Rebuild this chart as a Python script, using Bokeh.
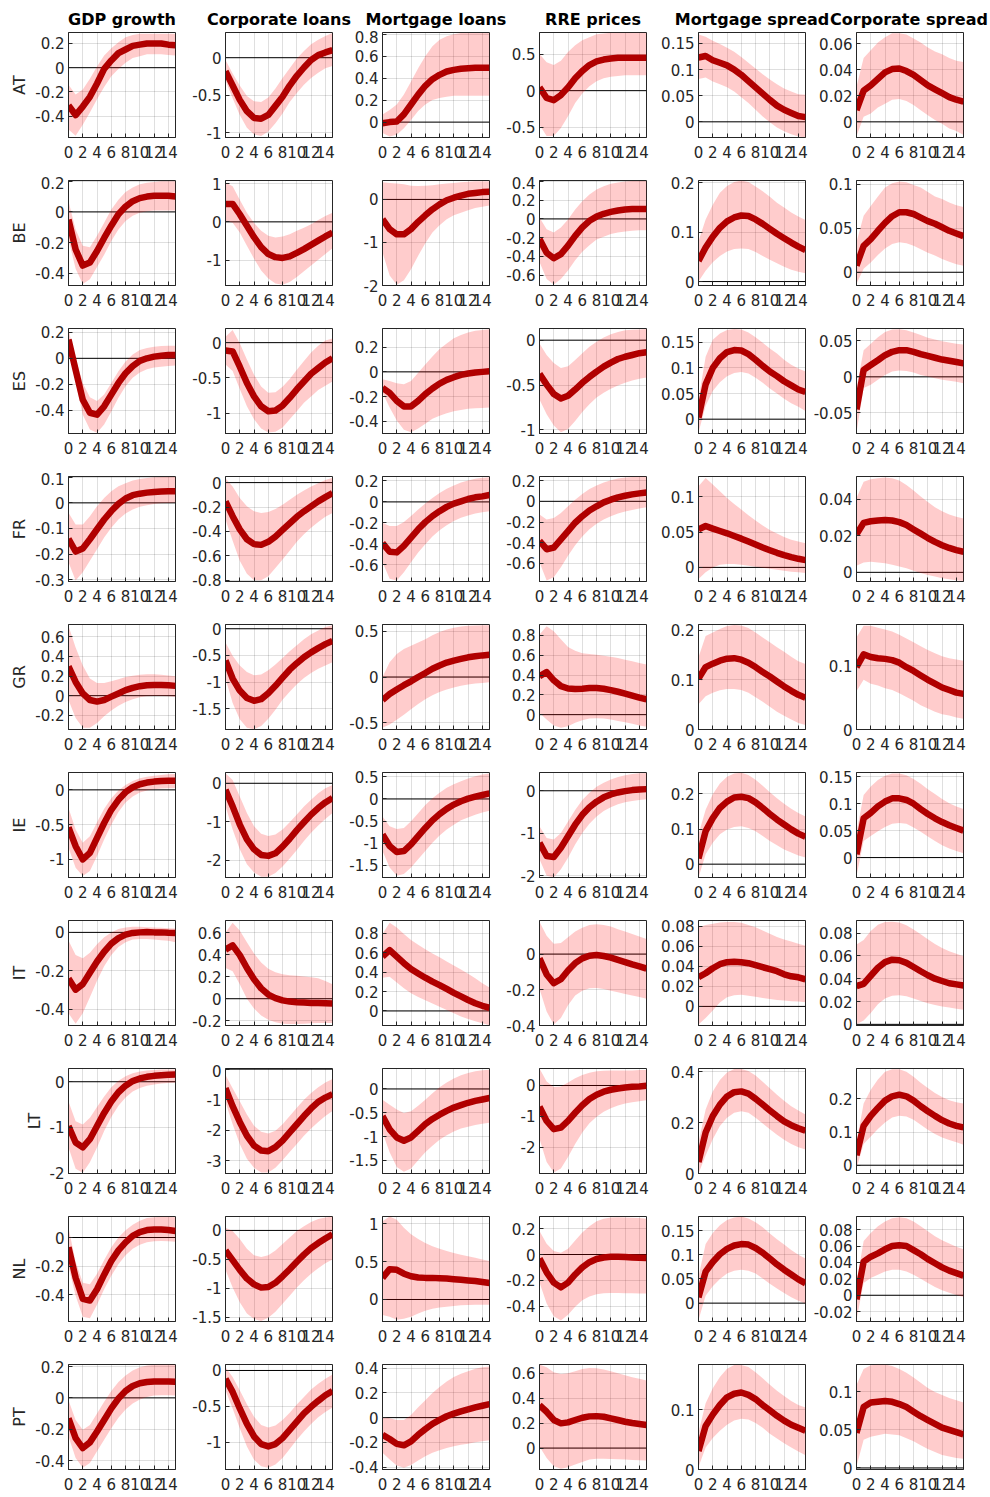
from bokeh.plotting import figure
from bokeh.layouts import gridplot, column
from bokeh.models import FixedTicker, CustomJSTickFormatter, Range1d, Span
from bokeh.core.properties import value
from bokeh.embed import file_html
from bokeh.resources import INLINE

COUNTRIES = ["AT", "BE", "ES", "FR", "GR", "IE", "IT", "LT", "NL", "PT"]
TITLES = ["GDP growth", "Corporate loans", "Mortgage loans", "RRE prices",
          "Mortgage spread", "Corporate spread"]
HORIZON = list(range(16))
X_TICKS = [0, 2, 4, 6, 8, 10, 12, 14]

# ---------------- GDP growth ----------------
GDP_MED = [
    [-0.31, -0.39, -0.32, -0.24, -0.13, -0.01, 0.06, 0.12, 0.15, 0.18, 0.19, 0.2, 0.2, 0.2, 0.19, 0.185],
    [-0.05, -0.245, -0.35, -0.33, -0.255, -0.17, -0.09, -0.015, 0.035, 0.07, 0.09, 0.1, 0.105, 0.105, 0.105, 0.1],
    [0.145, -0.09, -0.32, -0.42, -0.435, -0.37, -0.28, -0.19, -0.115, -0.06, -0.02, 0.0, 0.013, 0.02, 0.025, 0.025],
    [-0.14, -0.19, -0.178, -0.142, -0.103, -0.065, -0.032, -0.004, 0.017, 0.03, 0.036, 0.04, 0.0425, 0.044, 0.045, 0.045],
    [0.298, 0.14, 0.023, -0.044, -0.06, -0.044, -0.01, 0.023, 0.057, 0.08, 0.097, 0.107, 0.11, 0.11, 0.107, 0.1],
    [-0.538, -0.81, -1.0, -0.905, -0.69, -0.476, -0.286, -0.143, -0.033, 0.038, 0.081, 0.105, 0.119, 0.129, 0.133, 0.133],
    [-0.241, -0.299, -0.27, -0.211, -0.152, -0.101, -0.059, -0.03, -0.012, -0.003, 0.0, 0.002, 0.0, 0.0, -0.002, -0.003],
    [-0.971, -1.331, -1.439, -1.259, -0.971, -0.683, -0.432, -0.23, -0.086, 0.014, 0.072, 0.108, 0.129, 0.144, 0.151, 0.158],
    [-0.068, -0.282, -0.429, -0.441, -0.362, -0.26, -0.165, -0.09, -0.034, 0.011, 0.038, 0.052, 0.056, 0.056, 0.052, 0.045],
    [-0.131, -0.257, -0.32, -0.284, -0.215, -0.141, -0.067, -0.004, 0.044, 0.076, 0.093, 0.101, 0.105, 0.105, 0.105, 0.103],
]
GDP_LO = [
    [-0.51, -0.56, -0.47, -0.37, -0.26, -0.16, -0.07, -0.01, 0.04, 0.08, 0.095, 0.11, 0.11, 0.11, 0.105, 0.1],
    [-0.18, -0.37, -0.47, -0.44, -0.36, -0.28, -0.19, -0.115, -0.06, -0.025, -0.006, 0.004, 0.01, 0.01, 0.01, 0.01],
    [0.09, -0.18, -0.435, -0.55, -0.575, -0.51, -0.41, -0.305, -0.215, -0.15, -0.11, -0.085, -0.07, -0.065, -0.06, -0.055],
    [-0.232, -0.303, -0.271, -0.226, -0.181, -0.135, -0.097, -0.065, -0.041, -0.026, -0.015, -0.009, -0.004, -0.001, 0.0, 0.001],
    [-0.044, -0.228, -0.328, -0.328, -0.278, -0.21, -0.15, -0.104, -0.064, -0.037, -0.017, -0.007, -0.003, -0.003, -0.007, -0.013],
    [-0.833, -1.119, -1.238, -1.167, -0.952, -0.714, -0.5, -0.319, -0.181, -0.095, -0.038, -0.01, 0.01, 0.019, 0.024, 0.024],
    [-0.422, -0.477, -0.422, -0.338, -0.253, -0.177, -0.118, -0.076, -0.051, -0.037, -0.034, -0.034, -0.037, -0.041, -0.044, -0.051],
    [-1.439, -1.906, -1.993, -1.763, -1.439, -1.079, -0.77, -0.525, -0.345, -0.216, -0.137, -0.086, -0.058, -0.036, -0.029, -0.022],
    [-0.203, -0.407, -0.554, -0.565, -0.47, -0.362, -0.267, -0.188, -0.124, -0.079, -0.05, -0.034, -0.027, -0.025, -0.027, -0.029],
    [-0.246, -0.383, -0.446, -0.415, -0.341, -0.267, -0.194, -0.126, -0.074, -0.036, -0.011, 0.006, 0.015, 0.017, 0.017, 0.015],
]
GDP_HI = [
    [-0.14, -0.22, -0.18, -0.09, 0.01, 0.1, 0.16, 0.21, 0.25, 0.27, 0.28, 0.28, 0.28, 0.28, 0.28, 0.28],
    [0.07, -0.115, -0.22, -0.23, -0.155, -0.07, 0.015, 0.08, 0.13, 0.16, 0.18, 0.19, 0.195, 0.2, 0.2, 0.2],
    [0.22, 0.0, -0.19, -0.3, -0.33, -0.28, -0.19, -0.1, -0.025, 0.03, 0.065, 0.08, 0.09, 0.095, 0.097, 0.097],
    [-0.039, -0.084, -0.084, -0.052, -0.013, 0.019, 0.045, 0.065, 0.077, 0.087, 0.093, 0.097, 0.1, 0.101, 0.102, 0.102],
    [0.71, 0.492, 0.308, 0.174, 0.13, 0.13, 0.147, 0.167, 0.19, 0.204, 0.214, 0.218, 0.218, 0.214, 0.207, 0.197],
    [-0.262, -0.571, -0.762, -0.667, -0.467, -0.271, -0.119, -0.01, 0.071, 0.129, 0.167, 0.19, 0.205, 0.214, 0.224, 0.229],
    [-0.042, -0.118, -0.135, -0.106, -0.062, -0.025, 0.0, 0.017, 0.025, 0.029, 0.029, 0.027, 0.025, 0.024, 0.022, 0.02],
    [-0.432, -0.863, -0.935, -0.791, -0.554, -0.324, -0.122, 0.022, 0.122, 0.187, 0.223, 0.245, 0.259, 0.266, 0.266, 0.266],
    [0.068, -0.169, -0.316, -0.328, -0.253, -0.158, -0.068, 0.0, 0.05, 0.09, 0.118, 0.136, 0.142, 0.145, 0.145, 0.142],
    [-0.015, -0.141, -0.204, -0.173, -0.099, -0.025, 0.044, 0.101, 0.143, 0.175, 0.196, 0.206, 0.211, 0.213, 0.213, 0.213],
]
GDP_YLIM = [[-0.575, 0.29], [-0.48, 0.205], [-0.58, 0.23], [-0.307, 0.103], [-0.345, 0.726],
            [-1.26, 0.25], [-0.486, 0.062], [-2.01, 0.29], [-0.588, 0.147], [-0.457, 0.213]]
GDP_YTICKS = [[-0.4, -0.2, 0, 0.2], [-0.4, -0.2, 0, 0.2], [-0.4, -0.2, 0, 0.2], [-0.3, -0.2, -0.1, 0, 0.1],
              [-0.2, 0, 0.2, 0.4, 0.6], [-1, -0.5, 0], [-0.4, -0.2, 0], [-2, -1, 0], [-0.4, -0.2, 0],
              [-0.4, -0.2, 0, 0.2]]

# ---------------- Corporate loans ----------------
CORP_MED = [
    [-0.18, -0.37, -0.56, -0.71, -0.8, -0.81, -0.76, -0.64, -0.52, -0.37, -0.24, -0.13, -0.03, 0.035, 0.07, 0.1],
    [0.47, 0.47, 0.2, -0.1, -0.4, -0.66, -0.84, -0.92, -0.94, -0.9, -0.81, -0.71, -0.6, -0.49, -0.38, -0.28],
    [-0.11, -0.125, -0.34, -0.57, -0.76, -0.9, -0.97, -0.96, -0.89, -0.78, -0.66, -0.55, -0.44, -0.36, -0.28, -0.22],
    [-0.154, -0.275, -0.383, -0.464, -0.504, -0.51, -0.485, -0.442, -0.388, -0.334, -0.28, -0.235, -0.194, -0.154, -0.119, -0.086],
    [-0.596, -0.934, -1.16, -1.3, -1.35, -1.32, -1.21, -1.07, -0.916, -0.768, -0.645, -0.535, -0.443, -0.363, -0.289, -0.227],
    [-0.172, -0.6, -1.073, -1.46, -1.717, -1.863, -1.888, -1.82, -1.648, -1.442, -1.219, -1.013, -0.815, -0.644, -0.498, -0.386],
    [0.446, 0.484, 0.396, 0.279, 0.176, 0.094, 0.038, 0.006, -0.015, -0.026, -0.032, -0.035, -0.038, -0.038, -0.041, -0.044],
    [-0.622, -1.211, -1.726, -2.176, -2.497, -2.658, -2.68, -2.551, -2.337, -2.069, -1.801, -1.533, -1.286, -1.07, -0.93, -0.82],
    [-0.345, -0.513, -0.68, -0.83, -0.93, -0.986, -0.975, -0.903, -0.791, -0.669, -0.54, -0.418, -0.306, -0.217, -0.139, -0.067],
    [-0.115, -0.298, -0.528, -0.743, -0.917, -1.023, -1.055, -1.023, -0.94, -0.826, -0.711, -0.596, -0.505, -0.422, -0.344, -0.284],
]
CORP_LO = [
    [-0.3, -0.54, -0.76, -0.93, -1.02, -1.04, -0.98, -0.87, -0.74, -0.59, -0.47, -0.36, -0.27, -0.2, -0.14, -0.11],
    [0.03, -0.02, -0.28, -0.62, -0.96, -1.27, -1.48, -1.61, -1.64, -1.57, -1.44, -1.29, -1.14, -0.99, -0.84, -0.69],
    [-0.31, -0.4, -0.655, -0.9, -1.085, -1.215, -1.27, -1.26, -1.2, -1.085, -0.97, -0.85, -0.76, -0.67, -0.61, -0.55],
    [-0.302, -0.477, -0.64, -0.747, -0.8, -0.8, -0.766, -0.7, -0.63, -0.558, -0.485, -0.423, -0.369, -0.323, -0.28, -0.248],
    [-0.934, -1.395, -1.7, -1.856, -1.887, -1.825, -1.69, -1.52, -1.334, -1.18, -1.04, -0.922, -0.83, -0.75, -0.688, -0.627],
    [-0.6, -1.202, -1.717, -2.103, -2.318, -2.43, -2.43, -2.335, -2.163, -1.957, -1.734, -1.502, -1.288, -1.099, -0.927, -0.773],
    [0.279, 0.249, 0.132, 0.0, -0.088, -0.152, -0.191, -0.214, -0.226, -0.229, -0.229, -0.226, -0.223, -0.22, -0.22, -0.22],
    [-1.083, -1.801, -2.444, -2.926, -3.226, -3.376, -3.376, -3.226, -2.979, -2.711, -2.444, -2.176, -1.94, -1.726, -1.533, -1.372],
    [-0.68, -0.986, -1.237, -1.432, -1.527, -1.56, -1.504, -1.404, -1.265, -1.125, -0.986, -0.858, -0.746, -0.652, -0.568, -0.502],
    [-0.275, -0.528, -0.803, -1.055, -1.239, -1.33, -1.353, -1.307, -1.216, -1.092, -0.963, -0.849, -0.743, -0.651, -0.578, -0.514],
]
CORP_HI = [
    [-0.03, -0.21, -0.37, -0.51, -0.58, -0.59, -0.53, -0.41, -0.27, -0.14, -0.01, 0.09, 0.18, 0.24, 0.29, 0.33],
    [1.03, 0.93, 0.58, 0.24, -0.03, -0.23, -0.36, -0.41, -0.38, -0.32, -0.23, -0.15, -0.06, 0.05, 0.155, 0.24],
    [0.085, 0.18, -0.01, -0.24, -0.455, -0.62, -0.71, -0.7, -0.625, -0.515, -0.385, -0.26, -0.14, -0.045, 0.03, 0.06],
    [0.035, -0.032, -0.127, -0.194, -0.235, -0.248, -0.24, -0.216, -0.181, -0.14, -0.1, -0.065, -0.032, -0.005, 0.022, 0.04],
    [-0.258, -0.504, -0.688, -0.811, -0.873, -0.86, -0.78, -0.67, -0.547, -0.424, -0.307, -0.197, -0.105, -0.031, 0.031, 0.068],
    [0.258, 0.086, -0.343, -0.773, -1.116, -1.313, -1.373, -1.33, -1.202, -1.013, -0.815, -0.601, -0.429, -0.258, -0.129, -0.043],
    [0.601, 0.689, 0.62, 0.513, 0.41, 0.328, 0.273, 0.24, 0.223, 0.214, 0.208, 0.202, 0.196, 0.185, 0.161, 0.132],
    [-0.193, -0.622, -1.051, -1.479, -1.854, -2.047, -2.101, -2.015, -1.801, -1.533, -1.265, -0.997, -0.782, -0.59, -0.44, -0.322],
    [0.045, -0.011, -0.15, -0.318, -0.429, -0.457, -0.429, -0.345, -0.234, -0.123, -0.011, 0.072, 0.145, 0.195, 0.223, 0.24],
    [0.046, -0.092, -0.275, -0.468, -0.642, -0.757, -0.794, -0.766, -0.688, -0.587, -0.472, -0.367, -0.266, -0.183, -0.115, -0.055],
]
CORP_YLIM = [[-1.06, 0.335], [-1.66, 1.08], [-1.285, 0.2], [-0.81, 0.05], [-1.89, 0.08],
             [-2.45, 0.28], [-0.243, 0.71], [-3.41, 0.02], [-1.57, 0.24], [-1.376, 0.083]]
CORP_YTICKS = [[-1, -0.5, 0], [-1, 0, 1], [-1, -0.5, 0], [-0.8, -0.6, -0.4, -0.2, 0], [-1.5, -1, -0.5, 0],
               [-2, -1, 0], [-0.2, 0, 0.2, 0.4, 0.6], [-3, -2, -1, 0], [-1.5, -1, -0.5, 0], [-1, -0.5, 0]]

# ---------------- Mortgage loans ----------------
MORT_MED = [
    [-0.01, 0.0, 0.005, 0.07, 0.16, 0.25, 0.33, 0.39, 0.43, 0.46, 0.475, 0.485, 0.49, 0.495, 0.495, 0.495],
    [-0.46, -0.69, -0.81, -0.81, -0.69, -0.52, -0.37, -0.23, -0.115, -0.02, 0.04, 0.09, 0.13, 0.15, 0.17, 0.18],
    [-0.13, -0.17, -0.235, -0.28, -0.28, -0.235, -0.18, -0.135, -0.095, -0.065, -0.043, -0.024, -0.013, -0.005, 0.0, 0.005],
    [-0.392, -0.474, -0.48, -0.417, -0.339, -0.26, -0.192, -0.135, -0.088, -0.047, -0.016, 0.006, 0.028, 0.044, 0.053, 0.066],
    [-0.252, -0.187, -0.137, -0.09, -0.047, 0.0, 0.043, 0.09, 0.126, 0.158, 0.18, 0.198, 0.216, 0.227, 0.237, 0.245],
    [-0.806, -1.067, -1.2, -1.18, -1.03, -0.843, -0.657, -0.485, -0.343, -0.224, -0.127, -0.052, 0.007, 0.052, 0.09, 0.127],
    [0.56, 0.627, 0.56, 0.493, 0.433, 0.387, 0.343, 0.303, 0.267, 0.227, 0.187, 0.15, 0.113, 0.08, 0.053, 0.033],
    [-0.571, -0.846, -1.018, -1.087, -1.018, -0.88, -0.74, -0.63, -0.54, -0.46, -0.39, -0.34, -0.29, -0.25, -0.22, -0.19],
    [0.285, 0.4, 0.391, 0.34, 0.306, 0.289, 0.285, 0.285, 0.281, 0.277, 0.268, 0.26, 0.251, 0.243, 0.23, 0.217],
    [-0.139, -0.173, -0.213, -0.224, -0.192, -0.139, -0.093, -0.051, -0.019, 0.011, 0.032, 0.051, 0.067, 0.083, 0.096, 0.109],
]
MORT_LO = [
    [-0.1, -0.13, -0.115, -0.055, 0.02, 0.1, 0.16, 0.2, 0.22, 0.23, 0.24, 0.24, 0.24, 0.24, 0.24, 0.24],
    [-1.23, -1.77, -1.98, -1.88, -1.62, -1.31, -1.02, -0.77, -0.6, -0.46, -0.37, -0.31, -0.25, -0.2, -0.17, -0.14],
    [-0.17, -0.29, -0.395, -0.47, -0.49, -0.46, -0.42, -0.38, -0.355, -0.335, -0.32, -0.31, -0.3, -0.295, -0.293, -0.29],
    [-0.575, -0.732, -0.748, -0.669, -0.575, -0.48, -0.402, -0.33, -0.27, -0.223, -0.182, -0.151, -0.129, -0.11, -0.097, -0.088],
    [-0.558, -0.522, -0.468, -0.414, -0.353, -0.295, -0.245, -0.201, -0.165, -0.137, -0.115, -0.097, -0.083, -0.072, -0.065, -0.058],
    [-1.179, -1.552, -1.739, -1.701, -1.552, -1.366, -1.179, -0.993, -0.828, -0.694, -0.582, -0.485, -0.418, -0.358, -0.306, -0.269],
    [0.343, 0.353, 0.293, 0.233, 0.183, 0.143, 0.11, 0.077, 0.043, 0.01, -0.023, -0.057, -0.083, -0.107, -0.127, -0.147],
    [-0.915, -1.328, -1.637, -1.74, -1.671, -1.499, -1.328, -1.19, -1.066, -0.97, -0.894, -0.832, -0.791, -0.757, -0.729, -0.708],
    [-0.204, -0.226, -0.268, -0.255, -0.226, -0.183, -0.149, -0.123, -0.106, -0.094, -0.085, -0.077, -0.072, -0.068, -0.068, -0.068],
    [-0.285, -0.339, -0.387, -0.405, -0.384, -0.347, -0.312, -0.285, -0.264, -0.245, -0.232, -0.219, -0.211, -0.2, -0.192, -0.184],
]
MORT_HI = [
    [0.07, 0.11, 0.16, 0.25, 0.37, 0.49, 0.6, 0.69, 0.75, 0.78, 0.8, 0.81, 0.81, 0.81, 0.81, 0.81],
    [0.4, 0.38, 0.37, 0.35, 0.32, 0.31, 0.32, 0.33, 0.35, 0.37, 0.38, 0.4, 0.41, 0.42, 0.42, 0.42],
    [-0.06, -0.075, -0.093, -0.1, -0.075, -0.008, 0.06, 0.125, 0.185, 0.23, 0.272, 0.3, 0.32, 0.333, 0.34, 0.345],
    [-0.198, -0.229, -0.229, -0.192, -0.135, -0.072, -0.016, 0.038, 0.085, 0.126, 0.157, 0.185, 0.204, 0.22, 0.23, 0.236],
    [0.0, 0.162, 0.252, 0.306, 0.342, 0.378, 0.414, 0.457, 0.493, 0.522, 0.54, 0.554, 0.561, 0.565, 0.568, 0.568],
    [-0.396, -0.62, -0.679, -0.657, -0.507, -0.321, -0.134, 0.015, 0.142, 0.254, 0.336, 0.403, 0.463, 0.515, 0.552, 0.575],
    [0.793, 0.91, 0.86, 0.793, 0.733, 0.683, 0.637, 0.593, 0.553, 0.51, 0.47, 0.427, 0.383, 0.337, 0.287, 0.243],
    [-0.227, -0.33, -0.433, -0.502, -0.468, -0.351, -0.227, -0.089, 0.034, 0.138, 0.22, 0.289, 0.337, 0.371, 0.392, 0.406],
    [1.03, 1.094, 1.051, 0.945, 0.86, 0.796, 0.745, 0.702, 0.668, 0.638, 0.613, 0.591, 0.57, 0.549, 0.528, 0.506],
    [0.008, -0.005, -0.019, -0.019, 0.021, 0.083, 0.141, 0.2, 0.248, 0.293, 0.328, 0.355, 0.376, 0.395, 0.408, 0.413],
]
MORT_YLIM = [[-0.14, 0.815], [-2.0, 0.44], [-0.5, 0.352], [-0.757, 0.242], [-0.576, 0.576],
             [-1.78, 0.6], [-0.15, 0.933], [-1.775, 0.43], [-0.29, 1.094], [-0.42, 0.43]]
MORT_YTICKS = [[0, 0.2, 0.4, 0.6, 0.8], [-2, -1, 0], [-0.4, -0.2, 0, 0.2], [-0.6, -0.4, -0.2, 0, 0.2],
               [-0.5, 0, 0.5], [-1.5, -1, -0.5, 0, 0.5], [0, 0.2, 0.4, 0.6, 0.8], [-1.5, -1, -0.5, 0],
               [0, 0.5, 1], [-0.4, -0.2, 0, 0.2, 0.4]]

# ---------------- RRE prices ----------------
RRE_MED = [
    [0.045, -0.1, -0.13, -0.06, 0.045, 0.17, 0.27, 0.35, 0.4, 0.425, 0.44, 0.45, 0.45, 0.45, 0.45, 0.45],
    [-0.215, -0.36, -0.42, -0.375, -0.285, -0.18, -0.09, -0.02, 0.025, 0.055, 0.075, 0.09, 0.1, 0.105, 0.105, 0.105],
    [-0.375, -0.495, -0.6, -0.65, -0.62, -0.55, -0.475, -0.41, -0.35, -0.295, -0.25, -0.21, -0.185, -0.165, -0.145, -0.135],
    [-0.383, -0.463, -0.447, -0.367, -0.287, -0.207, -0.144, -0.089, -0.048, -0.01, 0.016, 0.038, 0.054, 0.067, 0.077, 0.086],
    [0.387, 0.43, 0.347, 0.288, 0.264, 0.258, 0.261, 0.268, 0.268, 0.261, 0.248, 0.231, 0.212, 0.192, 0.172, 0.155],
    [-1.225, -1.535, -1.558, -1.341, -1.07, -0.798, -0.566, -0.388, -0.256, -0.155, -0.085, -0.039, -0.008, 0.016, 0.031, 0.039],
    [-0.024, -0.114, -0.163, -0.141, -0.092, -0.051, -0.024, -0.009, -0.005, -0.011, -0.02, -0.033, -0.045, -0.058, -0.069, -0.081],
    [-0.691, -1.149, -1.415, -1.362, -1.149, -0.883, -0.638, -0.436, -0.298, -0.202, -0.138, -0.096, -0.064, -0.043, -0.032, -0.011],
    [-0.03, -0.138, -0.218, -0.255, -0.218, -0.155, -0.1, -0.06, -0.035, -0.023, -0.018, -0.018, -0.02, -0.023, -0.025, -0.028],
    [0.343, 0.291, 0.225, 0.198, 0.206, 0.225, 0.243, 0.254, 0.256, 0.251, 0.238, 0.225, 0.211, 0.201, 0.193, 0.185],
]
RRE_LO = [
    [-0.47, -0.62, -0.62, -0.51, -0.35, -0.17, -0.04, 0.06, 0.13, 0.17, 0.19, 0.2, 0.21, 0.21, 0.21, 0.21],
    [-0.46, -0.64, -0.7, -0.64, -0.55, -0.44, -0.35, -0.28, -0.22, -0.19, -0.16, -0.145, -0.135, -0.125, -0.12, -0.12],
    [-0.66, -0.825, -0.95, -1.025, -0.99, -0.9, -0.8, -0.715, -0.64, -0.585, -0.54, -0.505, -0.475, -0.45, -0.43, -0.415],
    [-0.59, -0.765, -0.734, -0.638, -0.526, -0.424, -0.341, -0.271, -0.217, -0.175, -0.144, -0.118, -0.099, -0.083, -0.07, -0.057],
    [0.017, -0.05, -0.109, -0.132, -0.116, -0.083, -0.056, -0.04, -0.036, -0.04, -0.05, -0.063, -0.076, -0.093, -0.109, -0.122],
    [-1.612, -2.0, -2.04, -1.845, -1.574, -1.264, -0.992, -0.775, -0.605, -0.473, -0.388, -0.318, -0.271, -0.24, -0.217, -0.202],
    [-0.195, -0.322, -0.395, -0.358, -0.286, -0.232, -0.205, -0.192, -0.19, -0.195, -0.205, -0.214, -0.223, -0.232, -0.241, -0.25],
    [-1.734, -2.479, -2.819, -2.691, -2.319, -1.894, -1.521, -1.223, -1.011, -0.851, -0.734, -0.649, -0.585, -0.543, -0.511, -0.479],
    [-0.218, -0.38, -0.48, -0.513, -0.468, -0.405, -0.355, -0.325, -0.308, -0.3, -0.298, -0.298, -0.3, -0.3, -0.303, -0.303],
    [0.013, -0.079, -0.145, -0.166, -0.153, -0.132, -0.111, -0.092, -0.085, -0.085, -0.087, -0.09, -0.092, -0.095, -0.098, -0.1],
]
RRE_HI = [
    [0.5, 0.39, 0.35, 0.41, 0.53, 0.62, 0.69, 0.73, 0.77, 0.78, 0.79, 0.79, 0.79, 0.79, 0.79, 0.79],
    [0.015, -0.11, -0.145, -0.09, -0.005, 0.1, 0.19, 0.26, 0.315, 0.35, 0.375, 0.39, 0.4, 0.405, 0.405, 0.405],
    [-0.037, -0.165, -0.255, -0.31, -0.29, -0.22, -0.145, -0.073, -0.018, 0.03, 0.066, 0.092, 0.11, 0.117, 0.12, 0.124],
    [-0.128, -0.175, -0.16, -0.112, -0.048, 0.016, 0.07, 0.118, 0.153, 0.182, 0.204, 0.22, 0.23, 0.236, 0.239, 0.239],
    [0.81, 0.893, 0.843, 0.76, 0.684, 0.645, 0.621, 0.612, 0.605, 0.595, 0.585, 0.572, 0.555, 0.539, 0.522, 0.506],
    [-0.837, -1.109, -1.147, -0.992, -0.721, -0.45, -0.217, -0.047, 0.093, 0.186, 0.264, 0.326, 0.364, 0.395, 0.411, 0.419],
    [0.181, 0.103, 0.058, 0.062, 0.094, 0.127, 0.148, 0.163, 0.167, 0.163, 0.154, 0.139, 0.127, 0.112, 0.098, 0.085],
    [0.553, 0.128, -0.053, -0.032, 0.096, 0.234, 0.34, 0.415, 0.457, 0.479, 0.489, 0.489, 0.489, 0.489, 0.5, 0.5],
    [0.183, 0.083, 0.028, 0.013, 0.045, 0.108, 0.17, 0.22, 0.258, 0.278, 0.288, 0.29, 0.288, 0.285, 0.283, 0.278],
    [0.67, 0.647, 0.608, 0.594, 0.6, 0.616, 0.634, 0.642, 0.639, 0.629, 0.616, 0.6, 0.584, 0.568, 0.555, 0.542],
]
RRE_YLIM = [[-0.64, 0.795], [-0.71, 0.41], [-1.04, 0.13], [-0.775, 0.24], [-0.15, 0.91],
            [-2.04, 0.43], [-0.4, 0.188], [-2.85, 0.55], [-0.52, 0.295], [-0.172, 0.67]]
RRE_YTICKS = [[-0.5, 0, 0.5], [-0.6, -0.4, -0.2, 0, 0.2, 0.4], [-1, -0.5, 0], [-0.6, -0.4, -0.2, 0, 0.2],
              [0, 0.2, 0.4, 0.6, 0.8], [-2, -1, 0], [-0.4, -0.2, 0], [-2, -1, 0], [-0.4, -0.2, 0, 0.2],
              [0, 0.2, 0.4, 0.6]]

# ---------------- Mortgage spread ----------------
MSPR_MED = [
    [0.123, 0.126, 0.118, 0.113, 0.108, 0.1, 0.09, 0.078, 0.066, 0.054, 0.042, 0.031, 0.023, 0.017, 0.011, 0.009],
    [0.042, 0.069, 0.091, 0.109, 0.122, 0.13, 0.134, 0.133, 0.126, 0.117, 0.107, 0.097, 0.088, 0.079, 0.071, 0.064],
    [0.003, 0.068, 0.1, 0.119, 0.131, 0.135, 0.134, 0.127, 0.116, 0.104, 0.093, 0.084, 0.074, 0.066, 0.058, 0.053],
    [0.054, 0.0587, 0.055, 0.0516, 0.0484, 0.0446, 0.0408, 0.0366, 0.0324, 0.0282, 0.0244, 0.0207, 0.0174, 0.0146, 0.0122, 0.0103],
    [0.103, 0.126, 0.133, 0.139, 0.143, 0.144, 0.141, 0.135, 0.126, 0.116, 0.107, 0.097, 0.087, 0.078, 0.07, 0.064],
    [0.016, 0.094, 0.131, 0.16, 0.178, 0.19, 0.192, 0.188, 0.176, 0.16, 0.143, 0.127, 0.113, 0.099, 0.087, 0.078],
    [0.029, 0.033, 0.038, 0.042, 0.044, 0.0445, 0.044, 0.043, 0.041, 0.039, 0.037, 0.035, 0.032, 0.03, 0.029, 0.027],
    [0.045, 0.161, 0.226, 0.271, 0.303, 0.32, 0.323, 0.314, 0.294, 0.271, 0.248, 0.226, 0.205, 0.19, 0.178, 0.168],
    [0.012, 0.065, 0.085, 0.101, 0.112, 0.119, 0.122, 0.121, 0.114, 0.104, 0.092, 0.08, 0.069, 0.059, 0.049, 0.041],
    [0.031, 0.073, 0.092, 0.108, 0.121, 0.127, 0.129, 0.125, 0.118, 0.108, 0.099, 0.09, 0.082, 0.075, 0.07, 0.065],
]
MSPR_LO = [
    [0.082, 0.085, 0.077, 0.072, 0.066, 0.058, 0.047, 0.036, 0.023, 0.01, -0.001, -0.011, -0.018, -0.024, -0.028, -0.03],
    [0.0, 0.022, 0.039, 0.052, 0.061, 0.066, 0.067, 0.066, 0.06, 0.052, 0.044, 0.037, 0.03, 0.024, 0.02, 0.017],
    [-0.026, 0.026, 0.055, 0.072, 0.084, 0.09, 0.092, 0.089, 0.081, 0.071, 0.06, 0.05, 0.04, 0.031, 0.024, 0.016],
    [-0.0164, -0.007, 0.0, 0.0038, 0.0047, 0.0047, 0.0038, 0.0023, 0.0009, -0.0005, -0.0019, -0.0033, -0.0047, -0.006, -0.007, -0.008],
    [0.051, 0.067, 0.074, 0.079, 0.082, 0.082, 0.08, 0.074, 0.065, 0.056, 0.046, 0.036, 0.028, 0.02, 0.013, 0.009],
    [-0.038, 0.028, 0.061, 0.085, 0.099, 0.106, 0.108, 0.103, 0.094, 0.08, 0.066, 0.054, 0.042, 0.033, 0.025, 0.019],
    [-0.018, -0.0116, -0.004, 0.004, 0.009, 0.011, 0.0116, 0.0106, 0.0097, 0.0084, 0.0074, 0.0065, 0.0058, 0.0052, 0.0048, 0.0042],
    [0.0, 0.071, 0.135, 0.187, 0.219, 0.239, 0.245, 0.239, 0.219, 0.197, 0.174, 0.152, 0.133, 0.116, 0.103, 0.094],
    [-0.035, 0.015, 0.035, 0.05, 0.061, 0.067, 0.069, 0.067, 0.061, 0.051, 0.04, 0.03, 0.021, 0.012, 0.005, -0.001],
    [0.004, 0.037, 0.053, 0.065, 0.075, 0.082, 0.085, 0.084, 0.078, 0.07, 0.06, 0.052, 0.044, 0.037, 0.03, 0.024],
]
MSPR_HI = [
    [0.167, 0.163, 0.155, 0.149, 0.142, 0.134, 0.124, 0.113, 0.102, 0.091, 0.081, 0.072, 0.064, 0.058, 0.053, 0.052],
    [0.082, 0.126, 0.156, 0.18, 0.194, 0.202, 0.205, 0.202, 0.193, 0.183, 0.172, 0.16, 0.15, 0.14, 0.132, 0.125],
    [0.039, 0.122, 0.155, 0.167, 0.174, 0.176, 0.175, 0.169, 0.16, 0.149, 0.138, 0.128, 0.116, 0.106, 0.099, 0.093],
    [0.115, 0.127, 0.1175, 0.108, 0.0986, 0.09, 0.082, 0.074, 0.0667, 0.0596, 0.053, 0.048, 0.0432, 0.0394, 0.0366, 0.0343],
    [0.146, 0.189, 0.196, 0.203, 0.209, 0.211, 0.21, 0.205, 0.196, 0.186, 0.176, 0.166, 0.157, 0.147, 0.138, 0.132],
    [0.085, 0.155, 0.199, 0.23, 0.249, 0.258, 0.26, 0.254, 0.24, 0.223, 0.205, 0.188, 0.172, 0.158, 0.146, 0.136],
    [0.0787, 0.081, 0.0823, 0.0835, 0.084, 0.084, 0.0832, 0.081, 0.0787, 0.0755, 0.0723, 0.069, 0.0665, 0.0645, 0.0623, 0.0603],
    [0.123, 0.252, 0.323, 0.368, 0.397, 0.411, 0.411, 0.403, 0.385, 0.361, 0.335, 0.31, 0.286, 0.265, 0.248, 0.232],
    [0.055, 0.122, 0.145, 0.161, 0.172, 0.177, 0.179, 0.175, 0.167, 0.157, 0.144, 0.132, 0.121, 0.11, 0.1, 0.092],
    [0.062, 0.111, 0.136, 0.155, 0.169, 0.175, 0.175, 0.172, 0.163, 0.153, 0.142, 0.132, 0.123, 0.115, 0.108, 0.104],
]
MSPR_YLIM = [[-0.03, 0.171], [-0.008, 0.205], [-0.028, 0.177], [-0.02, 0.129], [0.0, 0.212],
             [-0.038, 0.261], [-0.019, 0.0855], [0.0, 0.413], [-0.038, 0.179], [0.0, 0.176]]
MSPR_YTICKS = [[0, 0.05, 0.1, 0.15], [0, 0.1, 0.2], [0, 0.05, 0.1, 0.15], [0, 0.05, 0.1], [0, 0.1, 0.2],
               [0, 0.1, 0.2], [0, 0.02, 0.04, 0.06, 0.08], [0, 0.2, 0.4], [0, 0.05, 0.1, 0.15], [0, 0.1]]

# ---------------- Corporate spread ----------------
CSPR_MED = [
    [0.009, 0.024, 0.028, 0.033, 0.038, 0.0405, 0.041, 0.039, 0.036, 0.032, 0.028, 0.025, 0.022, 0.019, 0.017, 0.0155],
    [0.0075, 0.03, 0.0375, 0.047, 0.056, 0.0635, 0.068, 0.068, 0.066, 0.062, 0.058, 0.055, 0.051, 0.047, 0.044, 0.041],
    [-0.045, 0.0096, 0.0164, 0.023, 0.03, 0.0347, 0.037, 0.037, 0.0347, 0.0315, 0.029, 0.0265, 0.024, 0.0224, 0.0205, 0.0187],
    [0.0207, 0.027, 0.0279, 0.0283, 0.0285, 0.0283, 0.0274, 0.0258, 0.0234, 0.0211, 0.0187, 0.0166, 0.0148, 0.0133, 0.0121, 0.0112],
    [0.098, 0.118, 0.114, 0.112, 0.111, 0.109, 0.105, 0.098, 0.092, 0.085, 0.078, 0.072, 0.066, 0.062, 0.058, 0.056],
    [0.006, 0.073, 0.083, 0.095, 0.104, 0.11, 0.11, 0.107, 0.1, 0.09, 0.081, 0.073, 0.066, 0.06, 0.055, 0.05],
    [0.0335, 0.0355, 0.0426, 0.0496, 0.0545, 0.0567, 0.0562, 0.0539, 0.0502, 0.0465, 0.043, 0.04, 0.038, 0.036, 0.035, 0.034],
    [0.03, 0.119, 0.149, 0.173, 0.195, 0.208, 0.213, 0.208, 0.195, 0.178, 0.163, 0.149, 0.136, 0.126, 0.119, 0.114],
    [-0.005, 0.041, 0.047, 0.051, 0.056, 0.06, 0.061, 0.06, 0.055, 0.05, 0.044, 0.039, 0.034, 0.03, 0.027, 0.024],
    [0.046, 0.08, 0.086, 0.087, 0.088, 0.087, 0.084, 0.08, 0.074, 0.068, 0.063, 0.058, 0.053, 0.05, 0.047, 0.044],
]
CSPR_LO = [
    [-0.011, 0.004, 0.0065, 0.011, 0.014, 0.017, 0.0175, 0.016, 0.013, 0.009, 0.005, 0.0015, -0.0015, -0.005, -0.007, -0.01],
    [-0.013, 0.004, 0.011, 0.0195, 0.027, 0.032, 0.034, 0.033, 0.03, 0.026, 0.022, 0.019, 0.015, 0.012, 0.009, 0.0075],
    [-0.077, -0.0155, -0.011, -0.004, 0.0027, 0.0073, 0.0087, 0.0082, 0.006, 0.0027, 0.0005, -0.0018, -0.004, -0.0055, -0.0068, -0.0087],
    [0.0036, 0.0054, 0.0058, 0.0054, 0.0049, 0.0041, 0.0032, 0.0022, 0.0009, -0.0004, -0.0014, -0.0023, -0.0032, -0.0038, -0.0043, -0.0047],
    [0.06, 0.078, 0.072, 0.069, 0.065, 0.062, 0.057, 0.051, 0.045, 0.038, 0.033, 0.028, 0.024, 0.022, 0.019, 0.017],
    [-0.034, 0.031, 0.04, 0.049, 0.057, 0.063, 0.064, 0.063, 0.056, 0.048, 0.039, 0.031, 0.023, 0.017, 0.012, 0.008],
    [0.0, 0.0034, 0.0099, 0.0176, 0.0227, 0.025, 0.0255, 0.0247, 0.0227, 0.0204, 0.0184, 0.017, 0.0156, 0.0148, 0.0136, 0.0128],
    [-0.01, 0.064, 0.087, 0.109, 0.129, 0.144, 0.149, 0.147, 0.137, 0.122, 0.107, 0.094, 0.084, 0.076, 0.069, 0.062],
    [-0.03, 0.015, 0.021, 0.025, 0.029, 0.031, 0.031, 0.029, 0.025, 0.02, 0.015, 0.01, 0.006, 0.003, 0.0004, -0.002],
    [0.002, 0.037, 0.041, 0.043, 0.045, 0.044, 0.043, 0.039, 0.035, 0.03, 0.025, 0.021, 0.017, 0.015, 0.013, 0.012],
]
CSPR_HI = [
    [0.027, 0.049, 0.055, 0.061, 0.065, 0.068, 0.068, 0.067, 0.064, 0.061, 0.057, 0.054, 0.052, 0.049, 0.047, 0.046],
    [0.034, 0.064, 0.075, 0.086, 0.096, 0.101, 0.103, 0.102, 0.099, 0.096, 0.091, 0.086, 0.083, 0.079, 0.076, 0.074],
    [-0.0155, 0.037, 0.046, 0.055, 0.0623, 0.0655, 0.066, 0.0646, 0.0614, 0.058, 0.0543, 0.0516, 0.0493, 0.0475, 0.046, 0.0447],
    [0.0405, 0.0495, 0.0508, 0.0514, 0.0517, 0.0514, 0.0501, 0.0477, 0.0447, 0.0414, 0.0384, 0.0355, 0.0333, 0.0315, 0.0303, 0.0294],
    [0.145, 0.163, 0.163, 0.16, 0.157, 0.154, 0.149, 0.143, 0.137, 0.131, 0.125, 0.12, 0.115, 0.112, 0.11, 0.108],
    [0.046, 0.116, 0.132, 0.144, 0.152, 0.156, 0.156, 0.153, 0.146, 0.137, 0.127, 0.118, 0.109, 0.101, 0.095, 0.09],
    [0.07, 0.074, 0.0817, 0.0873, 0.0896, 0.09, 0.0893, 0.0868, 0.0831, 0.0789, 0.0746, 0.0704, 0.067, 0.0641, 0.0619, 0.0596],
    [0.069, 0.186, 0.228, 0.259, 0.282, 0.29, 0.29, 0.282, 0.267, 0.249, 0.233, 0.218, 0.206, 0.196, 0.19, 0.186],
    [0.015, 0.066, 0.076, 0.084, 0.09, 0.094, 0.095, 0.094, 0.09, 0.084, 0.078, 0.072, 0.067, 0.063, 0.059, 0.056],
    [0.109, 0.13, 0.135, 0.136, 0.136, 0.134, 0.13, 0.125, 0.119, 0.112, 0.105, 0.1, 0.096, 0.092, 0.089, 0.086],
]
CSPR_YLIM = [[-0.012, 0.0686], [-0.015, 0.104], [-0.0785, 0.067], [-0.005, 0.0523], [0.0, 0.165],
             [-0.037, 0.158], [-0.001, 0.091], [-0.025, 0.292], [-0.032, 0.096], [-0.002, 0.136]]
CSPR_YTICKS = [[0, 0.02, 0.04, 0.06], [0, 0.05, 0.1], [-0.05, 0, 0.05], [0, 0.02, 0.04], [0, 0.1],
               [0, 0.05, 0.1, 0.15], [0, 0.02, 0.04, 0.06, 0.08], [0, 0.1, 0.2],
               [-0.02, 0, 0.02, 0.04, 0.06, 0.08], [0, 0.05, 0.1]]

VARIABLES = [
    (GDP_MED, GDP_LO, GDP_HI, GDP_YLIM, GDP_YTICKS),
    (CORP_MED, CORP_LO, CORP_HI, CORP_YLIM, CORP_YTICKS),
    (MORT_MED, MORT_LO, MORT_HI, MORT_YLIM, MORT_YTICKS),
    (RRE_MED, RRE_LO, RRE_HI, RRE_YLIM, RRE_YTICKS),
    (MSPR_MED, MSPR_LO, MSPR_HI, MSPR_YLIM, MSPR_YTICKS),
    (CSPR_MED, CSPR_LO, CSPR_HI, CSPR_YLIM, CSPR_YTICKS),
]

# ---------------- layout / style ----------------
FONT = "DejaVu Sans"
TXT = "#262626"
FRAME_W, FRAME_H = 107, 105
LEFT_BORDERS = [68, 45, 45, 45, 45, 45]
RIGHT_BORDERS = [5, 5, 5, 7, 5, 5]
HEADER_H = 30
HEADER_W = 988
TITLE_BASE = 11

col_widths = [l + FRAME_W + r for l, r in zip(LEFT_BORDERS, RIGHT_BORDERS)]
col_starts = [sum(col_widths[:i]) for i in range(len(col_widths))]
title_x = [s + l + FRAME_W / 2 for s, l in zip(col_starts, LEFT_BORDERS)]

fmt = CustomJSTickFormatter(code="""
    const v = Math.round(tick * 1e6) / 1e6;
    return (v === 0) ? "0" : String(v);
""")

# header strip carrying the column titles (so long titles are not clipped)
header = figure(width=HEADER_W, height=HEADER_H, title=None,
                x_range=Range1d(0, HEADER_W), y_range=Range1d(0, HEADER_H),
                x_axis_type=None, y_axis_type=None,
                output_backend="svg", toolbar_location=None, min_border=0,
                outline_line_color=None)
header.grid.visible = False
header.text(x=title_x, y=[TITLE_BASE] * len(TITLES), text=TITLES, text_align="center",
            text_baseline="alphabetic", text_font=value(FONT), text_font_size="16px",
            text_font_style="bold", text_color="black")

rows = []
for r, country in enumerate(COUNTRIES):
    row = []
    for c, (med, lo, hi, ylims, ytick_lists) in enumerate(VARIABLES):
        ylim = ylims[r]
        top = 2 if r == 0 else 4
        bottom = 0 if r == len(COUNTRIES) - 1 else 39
        p = figure(frame_width=FRAME_W, frame_height=FRAME_H,
                   x_range=Range1d(0, 15), y_range=Range1d(ylim[0], ylim[1]),
                   output_backend="svg", toolbar_location=None,
                   min_border_left=LEFT_BORDERS[c], min_border_right=RIGHT_BORDERS[c],
                   min_border_top=top, min_border_bottom=bottom,
                   background_fill_color="white", border_fill_color="white")
        p.xaxis.ticker = FixedTicker(ticks=X_TICKS)
        p.yaxis.ticker = FixedTicker(ticks=ytick_lists[r])
        for ax in (p.xaxis[0], p.yaxis[0]):
            ax.formatter = fmt
            ax.major_label_text_font = FONT
            ax.major_label_text_font_size = "15px"
            ax.major_label_text_color = TXT
            ax.axis_line_color = TXT
            ax.major_tick_line_color = TXT
            ax.major_tick_in = 4
            ax.major_tick_out = 0
            ax.minor_tick_line_color = None
        p.xaxis.major_label_standoff = 8
        p.yaxis.major_label_standoff = 4
        if c == 0:
            p.yaxis.axis_label = country
            p.yaxis.axis_label_text_font = FONT
            p.yaxis.axis_label_text_font_size = "16px"
            p.yaxis.axis_label_text_font_style = "normal"
            p.yaxis.axis_label_text_color = TXT
            p.yaxis.axis_label_standoff = 3
        p.grid.grid_line_color = TXT
        p.grid.grid_line_alpha = 0.15
        p.outline_line_color = TXT
        p.outline_line_alpha = 1.0
        p.outline_line_width = 1

        p.add_layout(Span(location=0, dimension="width", line_color="black",
                          line_width=1, level="underlay"))
        p.varea(x=HORIZON, y1=lo[r], y2=hi[r], fill_color="#ff0000", fill_alpha=0.2)
        p.line(x=HORIZON, y=med[r], line_color="#b00000", line_width=6.5,
               line_join="round")
        row.append(p)
    rows.append(row)

grid = gridplot(rows, toolbar_location=None)
layout = column(header, grid)

with open("out.html", "w") as f:
    f.write(file_html(layout, INLINE))
